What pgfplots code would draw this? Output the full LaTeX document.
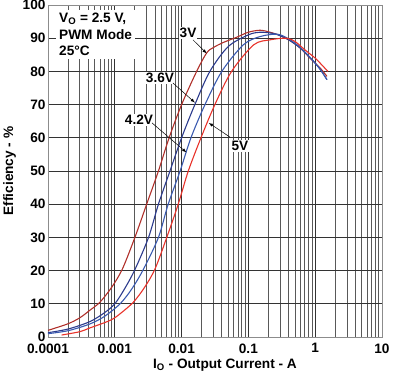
\documentclass[border=0pt]{standalone}
\usepackage{pgfplots}
\pgfplotsset{compat=1.18}
\usepackage{fontspec}
\setmainfont{Liberation Sans}
\definecolor{cA}{HTML}{B0302A}
\definecolor{cB}{HTML}{2B3A8C}
\definecolor{cC}{HTML}{3A5AB0}
\definecolor{cD}{HTML}{E8322A}
\begin{document}
\begin{tikzpicture}
\path[use as bounding box] (-48bp,-44bp) rectangle (352bp,337bp);
\begin{axis}[
  scale only axis, width=334bp, height=332bp,
  xmode=log, xmin=0.0001, xmax=10, ymin=0, ymax=100,
  log basis x=10,
  xtick={0.0001,0.001,0.01,0.1,1,10},
  xticklabels={0.0001,0.001,0.01,0.1,1,10},
  ytick={0,10,...,100},
  yticklabels={0,10,20,30,40,50,60,70,80,90,100},
  minor xtick={0.0002,0.0003,0.0004,0.0005,0.0006,0.0007,0.0008,0.0009,
    0.002,0.003,0.004,0.005,0.006,0.007,0.008,0.009,
    0.02,0.03,0.04,0.05,0.06,0.07,0.08,0.09,
    0.2,0.3,0.4,0.5,0.6,0.7,0.8,0.9,
    2,3,4,5,6,7,8,9},
  grid=both,
  major grid style={black!80, line width=0.9pt},
  minor grid style={black!65, line width=0.9pt},
  major tick length=0pt, minor tick length=0pt,
  axis line style={black!45, line width=0.9pt},
  tick label style={font=\bfseries\fontsize{13.7}{16}\selectfont},
  xticklabel style={yshift=-3bp},
  yticklabel style={xshift=1bp},
  xlabel={I\textsubscript{O} - Output Current - A},
  ylabel={Efficiency - \%},
  every axis x label/.style={at={(axis description cs:0.53,-0.085)}, anchor=center,
    font=\bfseries\fontsize{13.7}{16}\selectfont},
  every axis y label/.style={at={(axis description cs:-0.115,0.5)}, anchor=center, rotate=90,
    font=\bfseries\fontsize{13.7}{16}\selectfont},
  clip=false,
]
\addplot[cA, line width=1.1pt, smooth] coordinates {
(0.0001,2.0) (0.0002,4.0) (0.0003,5.8) (0.00042,8) (0.0006,10.5) (0.0009,15) (0.0013,20.5) (0.002,30) (0.003,40) (0.0045,50) (0.0065,60) (0.01,70) (0.0168,80) (0.0238,85.6) (0.03,87.2) (0.042,88.7) (0.067,90.3) (0.1,91.8) (0.15,92.4) (0.21,91.8) (0.3,90.8) (0.42,89.3) (0.6,87) (0.835,84) (1.0,82.5) (1.25,80.5) (1.5,78.5)
};
\addplot[cB, line width=1.1pt, smooth] coordinates {
(0.0001,1.3) (0.0002,2.4) (0.00042,4.6) (0.0007,7.3) (0.001,10) (0.0014,14.5) (0.002,20.3) (0.0032,30) (0.0045,40) (0.0067,50) (0.01,60) (0.0158,70) (0.0265,80) (0.05,87.5) (0.1,91) (0.15,91.8) (0.25,91.3) (0.4,89.5) (0.6,87) (0.9,83.5) (1.2,80.5) (1.5,77.5)
};
\addplot[cC, line width=1.1pt, smooth] coordinates {
(0.0001,1.0) (0.0002,1.9) (0.00042,3.9) (0.0007,6.2) (0.0012,10) (0.0018,14.5) (0.0027,20.5) (0.0045,30) (0.0063,40) (0.0095,50) (0.0138,60) (0.0224,70) (0.04,80) (0.084,88) (0.15,90.5) (0.27,91.2) (0.4,89.8) (0.6,87.2) (0.9,83.5) (1.2,80.5) (1.5,77.5)
};
\addplot[cD, line width=1.1pt, smooth] coordinates {
(0.00016,0.6) (0.0003,1.6) (0.00042,2.7) (0.00085,5) (0.0012,7) (0.0019,10.5) (0.0028,15) (0.004,20.5) (0.006,30) (0.0089,40) (0.0126,50) (0.0195,60) (0.0315,70) (0.056,80) (0.12,88) (0.21,89.5) (0.37,90) (0.5,89) (0.7,86.5) (1.0,84) (1.25,82) (1.55,80)
};
\node[fill=white, anchor=north west, align=left, inner sep=3bp,
  font=\bfseries\fontsize{13.7}{16.5}\selectfont] at (axis cs:0.000132,98.5)
  {V\textsubscript{O} = 2.5 V,\\PWM Mode\\25\textdegree C};
\tikzset{lab/.style={fill=white, inner sep=1bp, font=\bfseries\fontsize{13.7}{16}\selectfont}}
\node[lab] at (axis cs:0.0125,91.6) {3V};
\draw[-latex, black, line width=0.5pt] (axis cs:0.0148,89.5) -- (axis cs:0.0238,85.4);
\node[lab] at (axis cs:0.00475,78) {3.6V};
\draw[-latex, black, line width=0.5pt] (axis cs:0.00743,76.5) -- (axis cs:0.0158,70.6);
\node[lab] at (axis cs:0.0023,65.4) {4.2V};
\draw[-latex, black, line width=0.5pt] (axis cs:0.0036,64.5) -- (axis cs:0.0118,55.6);
\node[lab] at (axis cs:0.0748,57.5) {5V};
\draw[-latex, black, line width=0.5pt] (axis cs:0.053,60.2) -- (axis cs:0.0255,64.5);
\end{axis}
\end{tikzpicture}
\end{document}
